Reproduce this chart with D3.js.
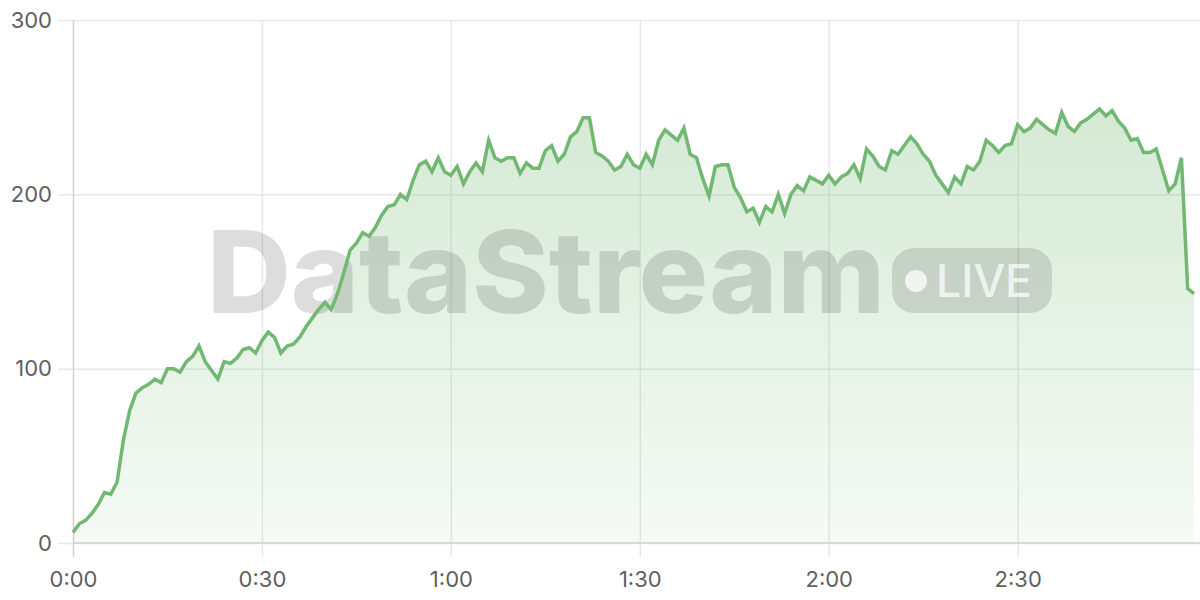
<!DOCTYPE html>
<html>
<head>
<meta charset="utf-8">
<script src="https://cdn.jsdelivr.net/npm/d3@7"></script>
<style>
  html, body { margin: 0; padding: 0; background: #ffffff; }
  svg { display: block; }
</style>
</head>
<body>
<svg id="chart" width="1200" height="600"></svg>
<script>
// ---- data (one sample per second) ----
const values = [
  6, 11, 13, 17, 22, 29, 28, 35, 59, 76,
  86, 89, 91, 94, 92, 100, 100, 98, 104, 107,
  113, 104, 99, 94, 104, 103, 106, 111, 112, 109,
  116, 121, 118, 109, 113, 114, 118, 124, 129, 134,
  138, 134, 143, 155, 168, 172, 178, 176, 181, 188,
  193, 194, 200, 197, 208, 217, 219, 213, 221, 213,
  211, 216, 206, 213, 218, 213, 231, 221, 219, 221,
  221, 212, 218, 215, 215, 225, 228, 219, 223, 233,
  236, 244, 244, 224, 222, 219, 214, 216, 223, 217,
  215, 223, 217, 231, 237, 234, 231, 238, 223, 221,
  209, 199, 216, 217, 217, 204, 198, 190, 192, 184,
  193, 190, 200, 189, 200, 205, 202, 210, 208, 206,
  211, 206, 210, 212, 217, 209, 226, 222, 216, 214,
  225, 223, 228, 233, 229, 223, 219, 211, 206, 201,
  210, 206, 216, 214, 219, 231, 228, 224, 228, 229,
  240, 236, 238, 243, 240, 237, 235, 247, 239, 236,
  241, 243, 246, 249, 245, 248, 242, 238, 231, 232,
  224, 224, 226, 214, 202, 206, 221, 146, 143
];
const xTickValues = [0, 30, 60, 90, 120, 150];
const xTickLabels = ["0:00", "0:30", "1:00", "1:30", "2:00", "2:30"];
const yTickValues = [0, 100, 200, 300];
const watermarkText = "DataStream";
const badgeText = "LIVE";

(function () {
  const svg = d3.select("#chart");
  const pL = 73, pR = 1194, pT = 20, pB = 543;
  const x = d3.scaleLinear().domain([0, values.length - 1]).range([pL, pR]);
  const y = d3.scaleLinear().domain([0, 300]).range([pB, pT]);
  const FONT = "Inter, 'Noto Sans', sans-serif";
  const lineColor = "#72b872";

  const defs = svg.append("defs");
  const grad = defs.append("linearGradient")
    .attr("id", "areaGrad")
    .attr("gradientUnits", "userSpaceOnUse")
    .attr("x1", 0).attr("x2", 0)
    .attr("y1", y(250)).attr("y2", y(0));
  grad.append("stop").attr("offset", "0%").attr("stop-color", lineColor).attr("stop-opacity", 0.30);
  grad.append("stop").attr("offset", "100%").attr("stop-color", lineColor).attr("stop-opacity", 0.07);

  // horizontal grid (y axis)
  const yAxis = d3.axisLeft(y).tickValues(yTickValues).tickSize(0).tickPadding(8);
  const gy = svg.append("g").attr("transform", "translate(58,0)").call(yAxis);
  gy.select(".domain").remove();
  gy.selectAll(".tick line").attr("stroke", "#e8e8e8").attr("stroke-width", 1.5)
    .attr("x1", 0).attr("x2", 1200 - 58);
  gy.selectAll(".tick text")
    .attr("x", -6)
    .style("font-family", FONT).style("font-size", "22px").attr("fill", "#5f5f5f");

  // vertical grid (x axis)
  const xAxis = d3.axisBottom(x).tickValues(xTickValues)
    .tickFormat((d, i) => xTickLabels[i]).tickSize(0).tickPadding(0);
  const gx = svg.append("g").attr("transform", "translate(0," + pB + ")").call(xAxis);
  gx.select(".domain").remove();
  gx.selectAll(".tick line")
    .attr("y1", pT - pB).attr("y2", 14)
    .attr("stroke", (d) => d === 0 ? "#d0d0d0" : "#e8e8e8")
    .attr("stroke-width", 1.5);
  gx.selectAll(".tick text")
    .attr("y", 37).attr("dy", "0.32em")
    .style("font-family", FONT).style("font-size", "22px").attr("fill", "#5f5f5f");

  // area
  const area = d3.area().x((d, i) => x(i)).y0(y(0)).y1((d) => y(d));
  svg.append("path").datum(values).attr("d", area).attr("fill", "url(#areaGrad)");

  // baseline
  svg.append("line").attr("x1", pL).attr("x2", 1200)
    .attr("y1", y(0)).attr("y2", y(0)).attr("stroke", "#d0d3d0").attr("stroke-width", 1.5);

  // watermark
  const wm = svg.append("g");
  wm.append("text")
    .attr("x", 207).attr("y", 313)
    .style("font-family", "Inter, 'Open Sans', sans-serif").style("font-weight", 800)
    .style("font-size", "114px").attr("textLength", 678).attr("lengthAdjust", "spacingAndGlyphs")
    .attr("fill", "rgba(0,0,0,0.135)")
    .text(watermarkText);
  wm.append("rect")
    .attr("x", 892).attr("y", 248).attr("width", 160).attr("height", 65).attr("rx", 22)
    .attr("fill", "rgba(0,0,0,0.12)");
  wm.append("circle").attr("cx", 916).attr("cy", 281).attr("r", 11)
    .attr("fill", "rgba(255,255,255,0.75)");
  wm.append("text")
    .attr("x", 936).attr("y", 297)
    .style("font-family", "Inter, sans-serif").style("font-weight", 500)
    .style("font-size", "45px").attr("textLength", 96).attr("lengthAdjust", "spacingAndGlyphs")
    .attr("fill", "rgba(255,255,255,0.72)")
    .text(badgeText);

  // line
  const line = d3.line().x((d, i) => x(i)).y((d) => y(d));
  svg.append("path").datum(values).attr("d", line)
    .attr("fill", "none").attr("stroke", lineColor).attr("stroke-width", 3.5)
    .attr("stroke-linejoin", "miter").attr("stroke-linecap", "butt");
})();
</script>
</body>
</html>
